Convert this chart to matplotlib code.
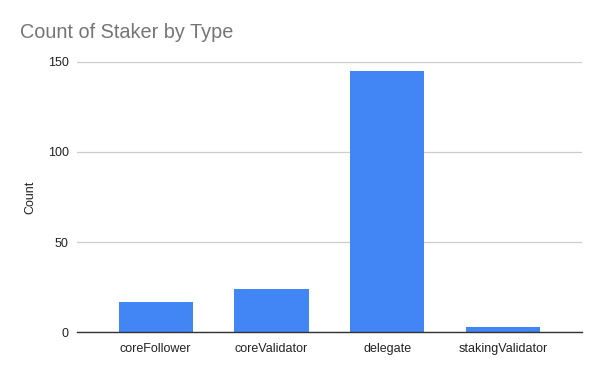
import matplotlib
matplotlib.use('Agg')
import matplotlib.pyplot as plt

types = ['coreFollower', 'coreValidator', 'delegate', 'stakingValidator']
counts = [17, 24, 145, 3]
y_ticks = [0, 50, 100, 150]

plt.rcParams['font.family'] = ['Liberation Sans', 'DejaVu Sans']

fig = plt.figure(figsize=(6, 3.71), dpi=100)
ax = fig.add_axes([77/600, 1 - 332.3/371, (581.7 - 77)/600, (332.3 - 61.7)/371])

x = list(range(len(types)))
ax.bar(x, counts, width=0.64, color='#4285F4', zorder=3)

ax.set_xlim(-0.68, 3.68)
ax.set_ylim(0, 150)
ax.set_yticks(y_ticks)
ax.set_xticks(x)
ax.set_xticklabels(types)
ax.tick_params(axis='both', length=0, labelsize=9, colors='#222222')
ax.tick_params(axis='x', pad=8)
ax.tick_params(axis='y', pad=6)

ax.grid(axis='y', color='#cccccc', linewidth=0.9, zorder=0)
for side in ['top', 'right', 'left']:
    ax.spines[side].set_visible(False)
ax.spines['bottom'].set_color('#333333')
ax.spines['bottom'].set_linewidth(1)
ax.spines['bottom'].set_zorder(4)

ax.set_ylabel('Count', fontsize=9, color='#222222', labelpad=8)

fig.text(20/600, 1 - 38/371, 'Count of Staker by Type', fontsize=14.3,
         color='#757575', ha='left', va='baseline')

plt.savefig('out.png', dpi=100)
